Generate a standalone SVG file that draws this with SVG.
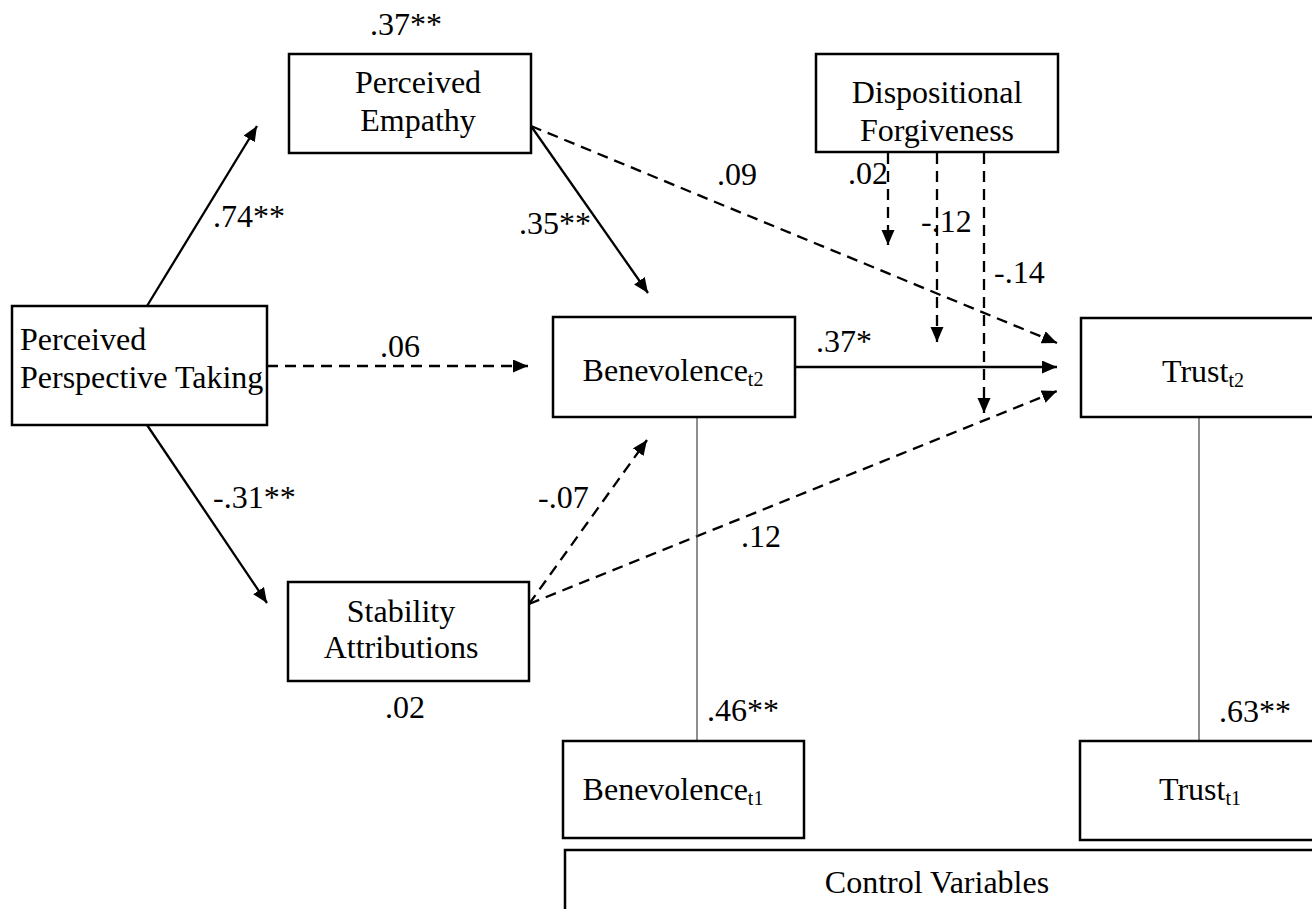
<svg xmlns="http://www.w3.org/2000/svg" width="1312" height="909" viewBox="0 0 1312 909">
<style>
text{font-family:"Liberation Serif","Times New Roman",serif;font-size:32px;fill:#000}
.sub{font-size:20px}
.box{fill:#fff;stroke:#000;stroke-width:2.5}
.c{fill:none;stroke:#000;stroke-width:2.3}
.d{stroke-dasharray:11 7}
.thin{fill:none;stroke:#444;stroke-width:1.2}
.mid{text-anchor:middle}
</style>
<defs>
<marker id="ah" markerUnits="userSpaceOnUse" markerWidth="16" markerHeight="14" refX="15" refY="6.5" orient="auto">
<path d="M0,0 L15,6.5 L0,13 z" fill="#000" stroke="none"/>
</marker>
</defs>
<rect width="1312" height="909" fill="#fff"/>
<g id="connectors">
<path class="c" d="M147,306 L257,126" marker-end="url(#ah)"/>
<path class="c" d="M531,126 L648,293" marker-end="url(#ah)"/>
<path class="c d" d="M531,126 L1057,343" marker-end="url(#ah)"/>
<path class="c d" d="M267,366 L528,366" marker-end="url(#ah)"/>
<path class="c" d="M795,367 L1057,367" marker-end="url(#ah)"/>
<path class="c" d="M147,425 L267,603" marker-end="url(#ah)"/>
<path class="c d" d="M529,604 L647,440" marker-end="url(#ah)"/>
<path class="c d" d="M529,604 L1057,391" marker-end="url(#ah)"/>
<path class="c d" d="M888,153 L888,245" marker-end="url(#ah)"/>
<path class="c d" d="M937,153 L937,342" marker-end="url(#ah)"/>
<path class="c d" d="M984,153 L984,413" marker-end="url(#ah)"/>
<path class="thin" d="M697,417 L697,741"/>
<path class="thin" d="M1199,417 L1199,741"/>
</g>
<g id="labels">
<text x="370" y="35">.37**</text>
<text x="213" y="227">.74**</text>
<text x="519" y="234">.35**</text>
<text x="717" y="185">.09</text>
<text x="848" y="184">.02</text>
<text x="921" y="232">-.12</text>
<text x="994" y="283">-.14</text>
<text x="380" y="357">.06</text>
<text x="816" y="352">.37*</text>
<text x="213" y="508">-.31**</text>
<text x="538" y="508">-.07</text>
<text x="741" y="547">.12</text>
<text x="385" y="718">.02</text>
<text x="707" y="721">.46**</text>
<text x="1219" y="722">.63**</text>
</g>
<g id="perceived-empathy">
<rect class="box" x="289" y="54" width="242" height="99"/>
<text class="mid" x="418" y="93">Perceived</text>
<text class="mid" x="418" y="131">Empathy</text>
</g>
<g id="dispositional-forgiveness">
<rect class="box" x="816" y="54" width="242" height="98"/>
<text class="mid" x="937" y="103">Dispositional</text>
<text class="mid" x="937" y="141">Forgiveness</text>
</g>
<g id="perceived-perspective-taking">
<rect class="box" x="12" y="306" width="255" height="119"/>
<text x="20" y="350">Perceived</text>
<text x="20" y="388">Perspective Taking</text>
</g>
<g id="benevolence-t2">
<rect class="box" x="553" y="317" width="242" height="100"/>
<text class="mid" x="673" y="381">Benevolence<tspan class="sub" dy="5">t2</tspan></text>
</g>
<g id="trust-t2">
<rect class="box" x="1081" y="318" width="250" height="99"/>
<text class="mid" x="1203" y="382">Trust<tspan class="sub" dy="5">t2</tspan></text>
</g>
<g id="stability-attributions">
<rect class="box" x="288" y="582" width="241" height="99"/>
<text class="mid" x="401" y="622">Stability</text>
<text class="mid" x="401" y="658">Attributions</text>
</g>
<g id="benevolence-t1">
<rect class="box" x="563" y="741" width="241" height="97"/>
<text class="mid" x="673" y="800">Benevolence<tspan class="sub" dy="5">t1</tspan></text>
</g>
<g id="trust-t1">
<rect class="box" x="1080" y="741" width="250" height="99"/>
<text class="mid" x="1200" y="800">Trust<tspan class="sub" dy="5">t1</tspan></text>
</g>
<g id="control-variables">
<rect class="box" x="565" y="850" width="765" height="80"/>
<text class="mid" x="937" y="893">Control Variables</text>
</g>
</svg>
